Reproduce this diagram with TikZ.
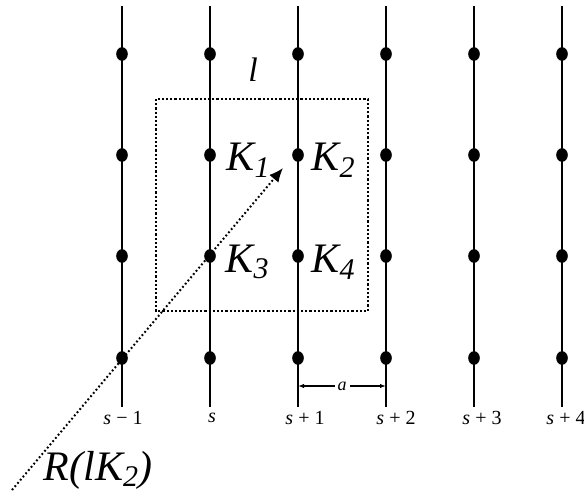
\documentclass[tikz,border=0pt]{standalone}
\usepackage{fontspec}
\setmainfont{Liberation Serif}
\usetikzlibrary{arrows.meta, shapes.geometric}

\tikzset{
	chain/.style={line width=1.2pt},
	site/.style={ellipse, fill=black, inner sep=0pt, minimum width=5.8pt, minimum height=6.8pt},
	cell/.style={line width=1.4pt, dash pattern=on 1.1pt off 1.0pt},
	ray/.style={line width=1pt, dash pattern=on 0.9pt off 1.2pt, -{Latex[length=7pt, width=6pt]}},
	dim/.style={line width=0.6pt, {Latex[length=3pt, width=2.2pt]}-{Latex[length=3pt, width=2.2pt]}},
	biglabel/.style={font=\fontsize{21}{24}\selectfont\itshape},
	chainlabel/.style={font=\fontsize{10}{12}\selectfont}
}
\newcommand{\Ksub}[1]{\textit{K}\raisebox{-0.35ex}{\fontsize{15}{16}\selectfont\itshape #1}}

\begin{document}
\begin{tikzpicture}[x=0.5pt, y=-0.5pt]
	\useasboundingbox (0, 0) rectangle (584, 498);
	% Chains and sites:
	\foreach \x [count=\i] in {122, 210, 298, 386, 474, 562} {
		\coordinate (top\i) at (\x, 6);
		\coordinate (bot\i) at (\x, 407);
		\draw[chain] (top\i) -- (bot\i);
		\foreach \y [count=\j] in {54, 155, 256, 358}
			\node[site] (site\i\j) at (\x, \y) {};
	}
	% Chain labels:
	\foreach \x/\lab [count=\i] in {123/\textit{s} − 1, 212/\textit{s}, 305/\textit{s} + 1, 396/\textit{s} + 2, 482/\textit{s} + 3, 566/\textit{s} + 4}
		\node[chainlabel] (chain\i) at (\x, 418) {\lab};
	% Spacing:
	\coordinate (aleft) at (298, 386);
	\coordinate (aright) at (386, 386);
	\draw[dim] (aleft) -- node[fill=white, inner sep=1.5pt, chainlabel, font=\fontsize{9}{10}\selectfont\itshape](alab){a} (aright);
	% Cell l:
	\draw[cell] (156, 99) rectangle (368, 311);
	\node[font=\fontsize{17}{20}\selectfont\itshape] (cell) at (253, 70) {l};
	\node[biglabel] (K1) at (248, 160) {\Ksub{1}};
	\node[biglabel] (K2) at (333, 160) {\Ksub{2}};
	\node[biglabel] (K3) at (247, 262) {\Ksub{3}};
	\node[biglabel] (K4) at (333, 262) {\Ksub{4}};
	% Vector R:
	\coordinate (rayfoot) at (12, 490);
	\coordinate (raytip) at (283, 168);
	\draw[ray] (rayfoot) -- (raytip);
	\node[biglabel, inner sep=0pt] (R) at (98, 470) {R(l\Ksub{2})};
\end{tikzpicture}
\end{document}
